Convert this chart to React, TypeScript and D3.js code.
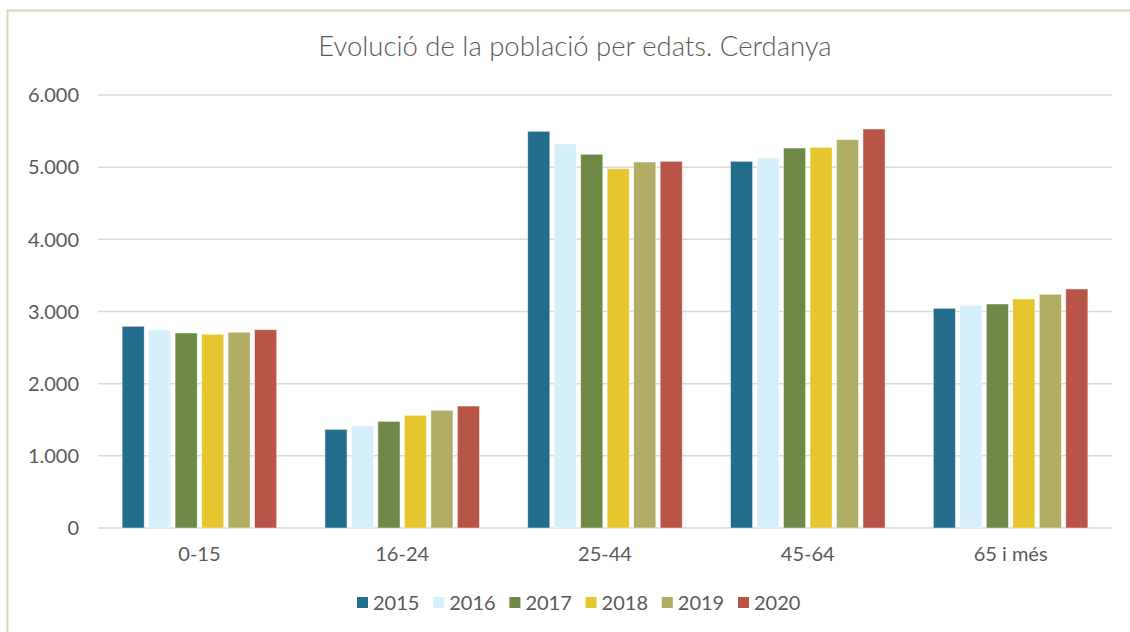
import React from "react";
import * as d3 from "d3";

const title = "Evolució de la població per edats. Cerdanya";
const categories = ["0-15", "16-24", "25-44", "45-64", "65 i més"];
const years = ["2015", "2016", "2017", "2018", "2019", "2020"];
const colors = ["#236e8c", "#d5effc", "#6e8845", "#e6c62e", "#b1ad65", "#b85546"];
// values per year, in category order
const v2015 = [2795, 1367, 5497, 5081, 3044];
const v2016 = [2744, 1413, 5321, 5127, 3086];
const v2017 = [2702, 1478, 5178, 5265, 3104];
const v2018 = [2684, 1561, 4979, 5275, 3173];
const v2019 = [2712, 1631, 5071, 5381, 3238];
const v2020 = [2748, 1690, 5081, 5529, 3312];
const yTicks = [0, 1000, 2000, 3000, 4000, 5000, 6000];

const series = [v2015, v2016, v2017, v2018, v2019, v2020];

const W = 1130;
const H = 632;
const FONT = "Lato, 'Open Sans', sans-serif";
const TEXT = "#595959";

export default function App() {
  const x0 = d3.scaleBand<string>().domain(categories).range([98, 1112]);
  const x1 = d3
    .scaleBand<string>()
    .domain(years)
    .range([0, x0.bandwidth()])
    .paddingInner(0.165)
    .paddingOuter(0.91);
  const y = d3.scaleLinear().domain([0, 6000]).range([528, 95]);
  const fmt = (v: number) => d3.format(",")(v).replace(/,/g, ".");
  const legendX = d3.scalePoint<string>().domain(years).range([357, 738]);

  return (
    <div style={{ position: "absolute", left: 0, top: 0 }}>
      <svg width={W} height={H} style={{ display: "block", background: "#fff" }}>
        <rect x={7.5} y={10.5} width={1140} height={640} fill="#fff" stroke="#d2dbb8" strokeWidth={2} />
        <text x={575} y={56} textAnchor="middle" fontFamily={FONT} fontWeight={300} fontSize={27.5} fill={TEXT}>
          {title}
        </text>
        {yTicks.map((t) => (
          <g key={t}>
            <line x1={98} x2={1112} y1={y(t)} y2={y(t)} stroke="#d9d9d9" strokeWidth={1.5} />
            <text x={79} y={y(t)} dy="0.36em" textAnchor="end" fontFamily={FONT} fontSize={20} fill={TEXT}>
              {fmt(t)}
            </text>
          </g>
        ))}
        {categories.map((c, ci) => (
          <g key={c} transform={`translate(${x0(c)},0)`}>
            {years.map((yr, si) => (
              <rect
                key={yr}
                x={x1(yr)}
                y={y(series[si][ci])}
                width={x1.bandwidth()}
                height={y(0) - y(series[si][ci])}
                fill={colors[si]}
                stroke="#ffffff"
                strokeOpacity={0.6}
                strokeWidth={0.8}
              />
            ))}
            <text
              x={x0.bandwidth() / 2}
              y={561}
              textAnchor="middle"
              fontFamily={FONT}
              fontSize={20}
              fill={TEXT}
            >
              {c}
            </text>
          </g>
        ))}
        {years.map((yr, si) => (
          <g key={yr} transform={`translate(${legendX(yr)},0)`}>
            <rect x={0} y={597} width={11} height={11} fill={colors[si]} />
            <text x={16} y={610} fontFamily={FONT} fontSize={20} fill={TEXT}>
              {yr}
            </text>
          </g>
        ))}
      </svg>
    </div>
  );
}
